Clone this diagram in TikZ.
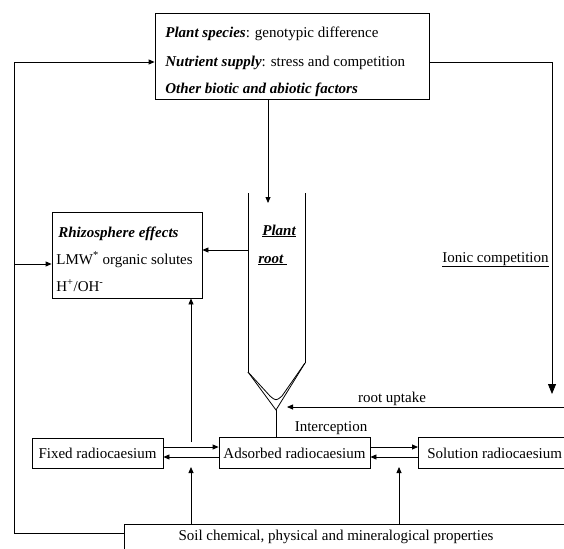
\documentclass[tikz,border=0pt]{standalone}
\usepackage{fontspec}
\setmainfont{Liberation Serif}
\usetikzlibrary{arrows.meta}
\begin{document}
\begin{tikzpicture}[x=1pt,y=-1pt,
  line width=0.8pt,
  every node/.style={font=\fontsize{15}{18}\selectfont},
  boxnode/.style={draw,line width=0.8pt,inner sep=0pt},
  txt/.style={inner sep=0pt,anchor=base west},
  arr/.style={-{Triangle[length=6pt,width=5pt]}},
  bigarr/.style={-{Triangle[length=10pt,width=8pt]}},
]
\useasboundingbox (0,0) rectangle (564,548);
\clip (0,0) rectangle (564,548);

% top box
\node[boxnode,minimum width=274pt,minimum height=86pt] (top) at (292,56) {};
\node[txt] (t1) at (165,38) {\textbf{\textit{Plant species}}: genotypic difference};
\node[txt] (t2) at (165,67) {\textbf{\textit{Nutrient supply}}: stress and competition};
\node[txt] (t3) at (165,94) {\textbf{\textit{Other biotic and abiotic factors}}};

% rhizosphere box
\node[boxnode,minimum width=150pt,minimum height=86pt] (rhizo) at (127,255) {};
\node[txt] (r1) at (58,237) {\textbf{\textit{Rhizosphere effects}}};
\node[txt] (r2) at (56,264) {LMW\textsuperscript{*} organic solutes};
\node[txt] (r3) at (56,291) {H\textsuperscript{+}/OH\textsuperscript{-}};

% plant root
\coordinate (rlt) at (248,193);
\coordinate (rlb) at (248,372);
\coordinate (rrt) at (305,193);
\coordinate (rrb) at (305,363);
\coordinate (tipo) at (276,410);
\coordinate (tipi) at (276,400);
\draw (rlt) -- (rlb);
\draw (rrt) -- (rrb);
\draw (rlb) -- (tipo) -- (rrb);
\draw (rlb) -- (270,396) .. controls (276,401) .. (282,396) -- (rrb);
\node[txt] (plant) at (262,235) {\textbf{\textit{\underline{Plant}}}};
\node[txt] (root) at (258,263) {\textbf{\textit{\underline{root\ }}}};

% bottom boxes
\node[boxnode,minimum width=131pt,minimum height=30pt] (fixed) at (97.5,453) {};
\node[inner sep=0pt,anchor=base] (fixedt) at (97.5,458) {Fixed radiocaesium};
\node[boxnode,minimum width=151pt,minimum height=31pt] (ads) at (294.5,452.5) {};
\node[inner sep=0pt,anchor=base] (adst) at (294.5,458) {Adsorbed radiocaesium};
\node[boxnode,minimum width=220pt,minimum height=31pt,anchor=west] (sol) at (418,452.5) {};
\node[txt] (solt) at (427,458) {Solution radiocaesium};
\node[boxnode,minimum width=600pt,minimum height=80pt,anchor=north west] (soil) at (124,524) {};
\node[inner sep=0pt,anchor=base] (soilt) at (336,540) {Soil chemical, physical and mineralogical properties};

% labels
\node[inner sep=0pt,anchor=base east] (ionic) at (549,262) {\underline{Ionic competition}};
\node[inner sep=0pt,anchor=base] (uptake) at (392,402) {root uptake};
\node[inner sep=0pt,anchor=base] (interc) at (331,431) {Interception};

% connectors
\coordinate (rootin) at (268,203);
\draw[arr] (top.south -| rootin) -- (rootin);
\coordinate (rootw) at (248,250);
\draw[arr] (rootw) -- (rootw -| rhizo.east);
\coordinate (lb) at (14,533);
\coordinate (lt) at (14,62);
\draw[arr] (soil.west |- lb) -- (lb) -- (lt) -- (lt -| top.west);
\coordinate (lm) at (14,264);
\draw[arr] (lm) -- (lm -| rhizo.west);
\coordinate (rt) at (552,62);
\coordinate (rb) at (552,394);
\draw[bigarr] (rt -| top.east) -- (rt) -- (rb);
\coordinate (upr) at (570,407);
\coordinate (upl) at (287,407);
\draw[arr] (upr) -- (upl);
\draw (tipo) -- (tipo |- ads.north);
% fixed <-> adsorbed
\coordinate (fa1) at (163,447);
\coordinate (fa2) at (163,457);
\draw[arr] (fixed.east |- fa1) -- (ads.west |- fa1);
\draw[arr] (ads.west |- fa2) -- (fixed.east |- fa2);
% adsorbed <-> solution
\coordinate (as1) at (370,447);
\coordinate (as2) at (370,457);
\draw[arr] (ads.east |- as1) -- (sol.west |- as1);
\draw[arr] (sol.west |- as2) -- (ads.east |- as2);
% soil up arrows
\coordinate (s1) at (191,467);
\coordinate (s2) at (399,467);
\draw[arr] (soil.north -| s1) -- (s1);
\draw[arr] (soil.north -| s2) -- (s2);
% to rhizosphere
\coordinate (rz) at (191,442);
\draw[arr] (rz) -- (rz |- rhizo.south);
\end{tikzpicture}
\end{document}
